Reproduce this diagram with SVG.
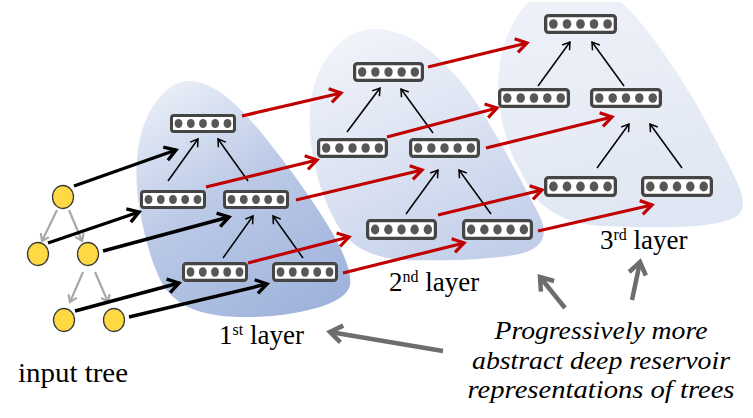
<svg xmlns="http://www.w3.org/2000/svg" xmlns:xlink="http://www.w3.org/1999/xlink" width="753" height="418" viewBox="0 0 753 418">
<style>
.box{fill:#fff;stroke:#454545;stroke-width:3}
.dot{fill:#575757}
.blk{stroke:#000;stroke-width:3.4;fill:none;marker-end:url(#mb)}
.red{stroke:#c00000;stroke-width:3.2;fill:none;marker-end:url(#mr)}
.thin{stroke:#000;stroke-width:1.5;fill:none;marker-end:url(#mt)}
.gry{stroke:#a8a8a8;stroke-width:2.2;fill:none;marker-end:url(#mg)}
.call{stroke:#6d6d6d;stroke-width:4.5;fill:none;marker-end:url(#mc)}
.leaf{fill:#ffd944;stroke:#3a3a3a;stroke-width:1.3}
.lbl{font-family:"Liberation Serif","Times New Roman",serif;font-size:27px;fill:#000}
.sup{font-size:16px}
.ital{font-family:"Liberation Serif","Times New Roman",serif;font-style:italic;font-size:25px;fill:#000;text-anchor:middle}
</style>
<defs>
<linearGradient id="g1" x1="0.2" y1="0" x2="0.75" y2="1">
<stop offset="0" stop-color="#e9eef7"/>
<stop offset="0.45" stop-color="#bccae7"/>
<stop offset="1" stop-color="#9fb3dc"/>
</linearGradient>
<linearGradient id="g2" x1="0.2" y1="0" x2="0.7" y2="1">
<stop offset="0" stop-color="#f1f4fa"/>
<stop offset="0.5" stop-color="#dce3f2"/>
<stop offset="1" stop-color="#c2cfea"/>
</linearGradient>
<linearGradient id="g3" x1="0.3" y1="0" x2="0.6" y2="1">
<stop offset="0" stop-color="#eef1f8"/>
<stop offset="1" stop-color="#dfe6f3"/>
</linearGradient>
<marker id="mb" markerUnits="userSpaceOnUse" viewBox="-16 -10 20 20" refX="0" refY="0" markerWidth="20" markerHeight="20" orient="auto" overflow="visible">
<path d="M-11,-7 L0,0 L-11,7" fill="none" stroke="#000" stroke-width="3.4"/>
</marker>
<marker id="mr" markerUnits="userSpaceOnUse" viewBox="-16 -10 20 20" refX="0" refY="0" markerWidth="20" markerHeight="20" orient="auto" overflow="visible">
<path d="M-11,-7 L0,0 L-11,7" fill="none" stroke="#c00000" stroke-width="3.2"/>
</marker>
<marker id="mt" markerUnits="userSpaceOnUse" viewBox="-10 -6 12 12" refX="0" refY="0" markerWidth="12" markerHeight="12" orient="auto" overflow="visible">
<path d="M-7,-4.5 L0,0 L-7,4.5" fill="none" stroke="#000" stroke-width="1.5"/>
</marker>
<marker id="mg" markerUnits="userSpaceOnUse" viewBox="-10 -6 12 12" refX="0" refY="0" markerWidth="12" markerHeight="12" orient="auto" overflow="visible">
<path d="M-6.5,-4.5 L0,0 L-6.5,4.5" fill="none" stroke="#a8a8a8" stroke-width="2.2"/>
</marker>
<marker id="mc" markerUnits="userSpaceOnUse" viewBox="-18 -12 22 24" refX="0" refY="0" markerWidth="22" markerHeight="24" orient="auto" overflow="visible">
<path d="M-12,-8.5 L0,0 L-12,8.5" fill="none" stroke="#6d6d6d" stroke-width="4.5"/>
</marker>
<symbol id="cell" viewBox="0 0 66 19" preserveAspectRatio="none">
<rect x="1.5" y="1.5" width="63" height="16" rx="2.5" class="box"/>
<ellipse cx="8.5" cy="9.5" rx="3.9" ry="4.6" class="dot"/>
<ellipse cx="20.8" cy="9.5" rx="3.9" ry="4.6" class="dot"/>
<ellipse cx="33" cy="9.5" rx="3.9" ry="4.6" class="dot"/>
<ellipse cx="45.2" cy="9.5" rx="3.9" ry="4.6" class="dot"/>
<ellipse cx="57.5" cy="9.5" rx="3.9" ry="4.6" class="dot"/>
</symbol>
</defs>

<g id="blobs">
<path id="blob3" fill="url(#g3)" stroke="#fff" stroke-width="4" d="M528,0 L622,0 C650,25 690,85 718,140 C738,178 755,205 738,218 C715,232 650,230 600,228 C565,226 542,212 527,190 C508,160 492,110 497,70 C500,40 512,15 528,0 Z"/>
<path id="blob2" fill="url(#g2)" stroke="#fff" stroke-width="4" d="M372,27 C405,25 440,50 470,90 C495,125 520,175 540,212 C552,235 545,250 520,256 C490,262 440,263 405,262 C370,260 348,248 335,225 C318,195 305,150 308,110 C311,65 338,29 372,27 Z"/>
<path id="blob1" fill="url(#g1)" stroke="#fff" stroke-width="4" d="M190,79 C225,79 262,128 300,180 C330,222 355,262 352,285 C348,308 290,320 240,319 C195,318 170,305 158,280 C142,245 132,195 135,158 C138,118 160,79 190,79 Z"/>
</g>

<g id="connectors">
<line class="gry" x1="57" y1="210" x2="42" y2="241"/>
<line class="gry" x1="69" y1="210" x2="82" y2="241"/>
<line class="gry" x1="83" y1="272" x2="70" y2="302"/>
<line class="gry" x1="95" y1="272" x2="108" y2="302"/>

<line class="blk" x1="74" y1="186" x2="176" y2="150"/>
<line class="blk" x1="48" y1="243" x2="139" y2="212"/>
<line class="blk" x1="103" y1="251" x2="229" y2="217"/>
<line class="blk" x1="75" y1="311" x2="179" y2="283"/>
<line class="blk" x1="129" y1="317" x2="267" y2="284"/>

<line class="thin" x1="168" y1="181" x2="198" y2="139"/>
<line class="thin" x1="248" y1="181" x2="218" y2="139"/>
<line class="thin" x1="223" y1="258" x2="253" y2="216"/>
<line class="thin" x1="303" y1="258" x2="273" y2="216"/>

<line class="thin" x1="347" y1="132" x2="380" y2="88"/>
<line class="thin" x1="433" y1="133" x2="401" y2="89"/>
<line class="thin" x1="406" y1="214" x2="438" y2="170"/>
<line class="thin" x1="491" y1="214" x2="459" y2="170"/>

<line class="thin" x1="538" y1="86" x2="570" y2="42"/>
<line class="thin" x1="624" y1="86" x2="592" y2="42"/>
<line class="thin" x1="597" y1="168" x2="629" y2="124"/>
<line class="thin" x1="682" y1="168" x2="650" y2="124"/>

<line class="red" x1="242" y1="116" x2="341" y2="93"/>
<line class="red" x1="206" y1="187" x2="317" y2="160"/>
<line class="red" x1="296" y1="200" x2="422" y2="170"/>
<line class="red" x1="248" y1="263" x2="349" y2="237"/>
<line class="red" x1="343" y1="273" x2="464" y2="243"/>

<line class="red" x1="428" y1="67" x2="527" y2="43"/>
<line class="red" x1="387" y1="137" x2="497" y2="108"/>
<line class="red" x1="486" y1="148" x2="612" y2="117"/>
<line class="red" x1="438" y1="215" x2="542" y2="190"/>
<line class="red" x1="538" y1="231" x2="652" y2="205"/>

<line class="call" x1="443" y1="351" x2="330" y2="332"/>
<line class="call" x1="565" y1="308" x2="540" y2="277"/>
<line class="call" x1="632" y1="300" x2="640" y2="262"/>
</g>

<g id="input-tree">
<ellipse class="leaf" cx="63" cy="197" rx="10.5" ry="11.5"/>
<ellipse class="leaf" cx="38" cy="254" rx="10.5" ry="11.5"/>
<ellipse class="leaf" cx="88" cy="254" rx="10.5" ry="11.5"/>
<ellipse class="leaf" cx="64" cy="320" rx="10.5" ry="11.5"/>
<ellipse class="leaf" cx="114" cy="320" rx="10.5" ry="11.5"/>
</g>

<g id="l1-top"><use xlink:href="#cell" href="#cell" x="170" y="114" width="66" height="19"/></g>
<g id="l1-midL"><use xlink:href="#cell" href="#cell" x="140" y="190" width="66" height="19"/></g>
<g id="l1-midR"><use xlink:href="#cell" href="#cell" x="223" y="190" width="66" height="19"/></g>
<g id="l1-botL"><use xlink:href="#cell" href="#cell" x="182" y="262" width="66" height="20"/></g>
<g id="l1-botR"><use xlink:href="#cell" href="#cell" x="272" y="262" width="66" height="20"/></g>

<g id="l2-top"><use xlink:href="#cell" href="#cell" x="353" y="62" width="71" height="20"/></g>
<g id="l2-midL"><use xlink:href="#cell" href="#cell" x="317" y="138" width="71" height="20"/></g>
<g id="l2-midR"><use xlink:href="#cell" href="#cell" x="409" y="138" width="71" height="20"/></g>
<g id="l2-botL"><use xlink:href="#cell" href="#cell" x="366" y="219" width="71" height="21"/></g>
<g id="l2-botR"><use xlink:href="#cell" href="#cell" x="462" y="219" width="71" height="21"/></g>

<g id="l3-top"><use xlink:href="#cell" href="#cell" x="544" y="14" width="73" height="20"/></g>
<g id="l3-midL"><use xlink:href="#cell" href="#cell" x="498" y="88" width="72" height="20"/></g>
<g id="l3-midR"><use xlink:href="#cell" href="#cell" x="590" y="88" width="72" height="20"/></g>
<g id="l3-botL"><use xlink:href="#cell" href="#cell" x="544" y="176" width="73" height="21"/></g>
<g id="l3-botR"><use xlink:href="#cell" href="#cell" x="641" y="176" width="72" height="21"/></g>

<g id="labels">
<text class="lbl" x="18" y="382" textLength="110" lengthAdjust="spacingAndGlyphs">input tree</text>
<text class="lbl" x="219" y="344">1<tspan class="sup" dy="-9">st</tspan><tspan dy="9"> layer</tspan></text>
<text class="lbl" x="389" y="291">2<tspan class="sup" dy="-9">nd</tspan><tspan dy="9"> layer</tspan></text>
<text class="lbl" x="600" y="249">3<tspan class="sup" dy="-9">rd</tspan><tspan dy="9"> layer</tspan></text>
<text class="ital" x="601" y="339" textLength="213" lengthAdjust="spacingAndGlyphs">Progressively more</text>
<text class="ital" x="601" y="369" textLength="258" lengthAdjust="spacingAndGlyphs">abstract deep reservoir</text>
<text class="ital" x="601" y="398" textLength="267" lengthAdjust="spacingAndGlyphs">representations of trees</text>
</g>
</svg>
